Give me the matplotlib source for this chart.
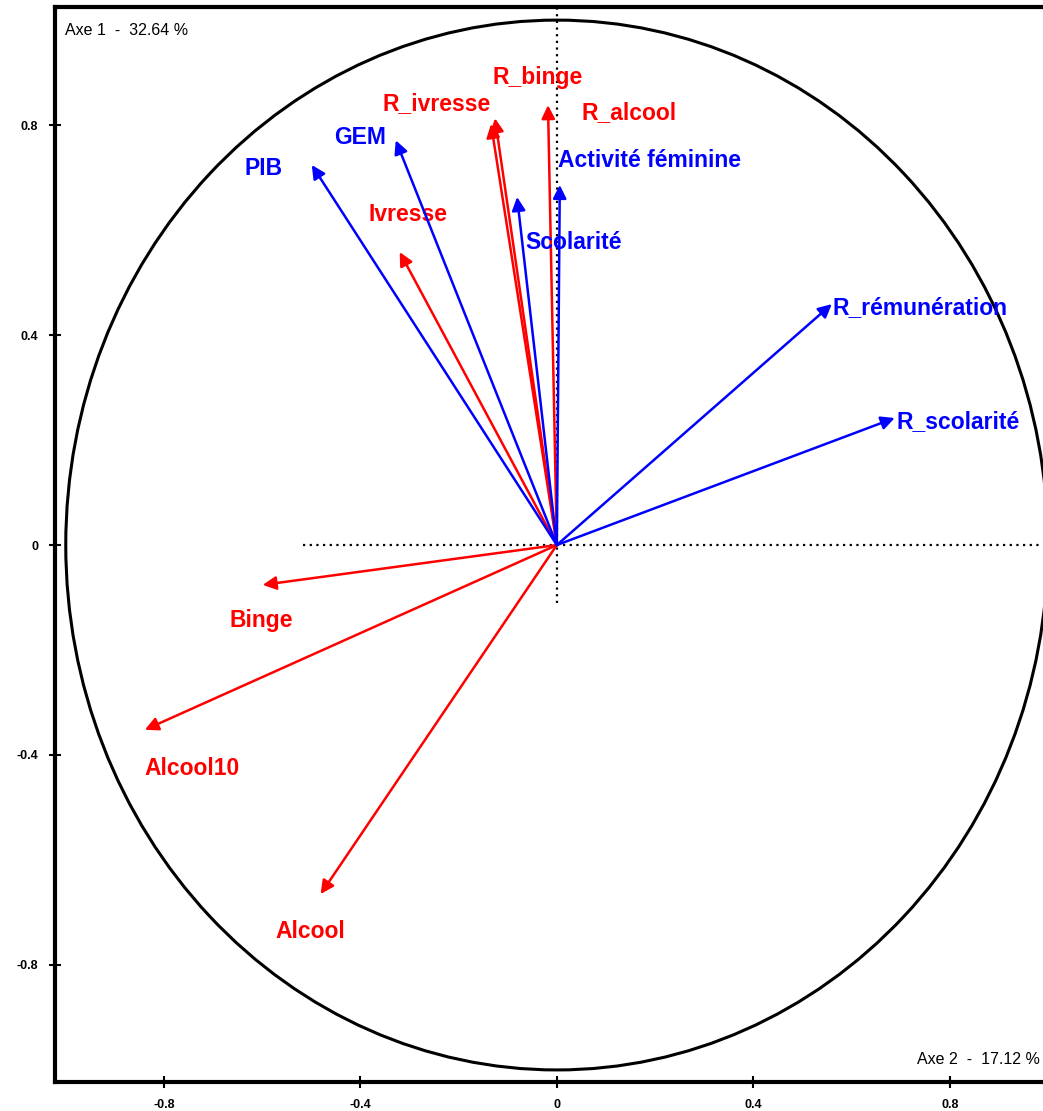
import matplotlib
matplotlib.use("Agg")
import matplotlib.pyplot as plt
from matplotlib.patches import Ellipse

# variable coordinates on the correlation circle (Axe 2 -> x, Axe 1 -> y)
red_names = ["R_binge", "R_ivresse", "R_alcool", "Ivresse", "Binge", "Alcool10", "Alcool"]
red_x = [-0.134, -0.126, -0.018, -0.320, -0.599, -0.839, -0.481]
red_y = [0.802, 0.813, 0.838, 0.558, -0.076, -0.352, -0.665]

blue_names = ["PIB", "GEM", "Scolarité", "Activité féminine", "R_rémunération", "R_scolarité"]
blue_x = [-0.499, -0.328, -0.081, 0.006, 0.560, 0.688]
blue_y = [0.724, 0.771, 0.663, 0.686, 0.459, 0.242]

# label anchors (x, y, ha)
labels = {
    "R_binge": (-0.039, 0.891, "center"),
    "R_ivresse": (-0.244, 0.842, "center"),
    "R_alcool": (0.147, 0.823, "center"),
    "Ivresse": (-0.303, 0.629, "center"),
    "Binge": (-0.601, -0.143, "center"),
    "Alcool10": (-0.743, -0.425, "center"),
    "Alcool": (-0.503, -0.737, "center"),
    "PIB": (-0.558, 0.718, "right"),
    "GEM": (-0.401, 0.777, "center"),
    "Scolarité": (0.035, 0.577, "center"),
    "Activité féminine": (0.189, 0.733, "center"),
    "R_rémunération": (0.562, 0.453, "left"),
    "R_scolarité": (0.692, 0.236, "left"),
}

ticks = [-0.8, -0.4, 0, 0.4, 0.8]
tick_labels = ["-0.8", "-0.4", "0", "0.4", "0.8"]

RED = "#ff0000"
BLUE = "#0000ff"

plt.rcParams["font.family"] = ["Liberation Sans", "DejaVu Sans"]

fig = plt.figure(figsize=(10.43, 11.11), dpi=100)
ax = fig.add_axes([0.0527, 0.0261, 0.9473, 0.9676])
ax.set_xlim(-1.022, 0.99)
ax.set_ylim(-1.023, 1.025)

# unit circle
ax.add_patch(Ellipse((0, 0), 2, 2, fill=False, edgecolor="black", lw=2.2))

# dotted axes
ax.plot([-0.517, 0.99], [0, 0], color="black", lw=1.6, ls=(0, (1, 2)))
ax.plot([0, 0], [-0.11, 1.025], color="black", lw=1.6, ls=(0, (1, 2)))


def draw(xs, ys, names, color):
    for x, y, n in zip(xs, ys, names):
        ax.annotate("", xy=(x, y), xytext=(0, 0),
                    arrowprops=dict(arrowstyle="-|>", color=color, lw=1.8,
                                    mutation_scale=20, shrinkA=0, shrinkB=0))
        lx, ly, ha = labels[n]
        ax.text(lx, ly, n, color=color, fontsize=16.5, fontweight="bold",
                ha=ha, va="center")


draw(red_x, red_y, red_names, RED)
draw(blue_x, blue_y, blue_names, BLUE)

ax.text(-1.002, 0.981, "Axe 1  -  32.64 %", fontsize=11.5, ha="left", va="center")
ax.text(0.984, -0.981, "Axe 2  -  17.12 %", fontsize=11.5, ha="right", va="center")

ax.set_xticks(ticks)
ax.set_xticklabels(tick_labels)
ax.set_yticks(ticks)
ax.set_yticklabels(tick_labels)
ax.tick_params(direction="inout", length=8, width=1.5, labelsize=9, pad=8)
for lab in ax.get_xticklabels() + ax.get_yticklabels():
    lab.set_fontweight("bold")

for side in ["left", "bottom", "top"]:
    ax.spines[side].set_linewidth(3)
ax.spines["right"].set_visible(False)

fig.savefig("out.png", dpi=100)
